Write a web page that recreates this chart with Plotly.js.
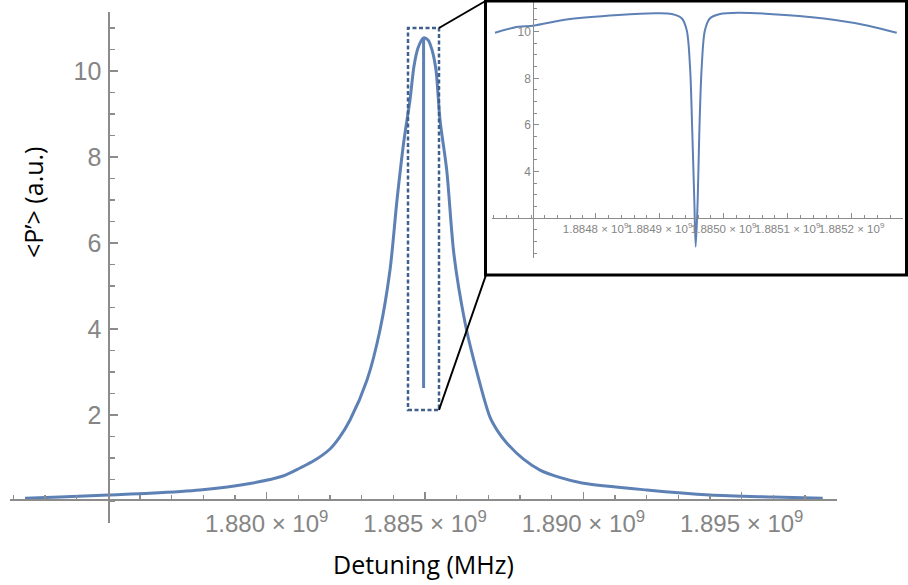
<!DOCTYPE html>
<html>
<head>
<meta charset="utf-8">
<script src="https://cdn.plot.ly/plotly-3.0.1.min.js"></script>
<style>
  html, body { margin: 0; padding: 0; background: #ffffff; }
  #chart { width: 908px; height: 585px; }
</style>
</head>
<body>
<div id="chart"></div>
<script>
// ---- Main curve (detuning in Hz, <P'> in a.u.) ----
const mainDetuning = [
  1.872370e9, 1.873475e9, 1.875000e9, 1.876317e9, 1.877896e9, 1.879474e9,
  1.880516e9, 1.881053e9, 1.881500e9, 1.882000e9, 1.882300e9, 1.882632e9,
  1.883169e9, 1.883579e9,
  1.883895e9, 1.884116e9, 1.884337e9, 1.884526e9, 1.884653e9, 1.884779e9,
  1.884955e9,
  1.885095e9, 1.885221e9, 1.885347e9, 1.885474e9, 1.885685e9, 1.885916e9,
  1.886263e9, 1.886515e9, 1.887052e9, 1.887300e9, 1.887580e9, 1.888100e9,
  1.888630e9, 1.889250e9, 1.889956e9,
  1.892000e9, 1.894000e9, 1.895990e9, 1.897558e9
];
const mainPower = [
  0.063, 0.093, 0.14, 0.18, 0.256, 0.407,
  0.581, 0.767, 0.94, 1.21, 1.48, 1.884,
  2.814, 3.977,
  5.372, 7.0, 8.395, 9.326, 10.116, 10.535,
  10.77,
  10.72, 10.49, 10.02, 8.86, 7.70, 5.72,
  4.15, 3.35, 1.95, 1.62, 1.35, 0.98,
  0.72, 0.55, 0.42,
  0.256, 0.14, 0.093, 0.063
];
// narrow dip at line centre, seen as a vertical stroke in the main plot
const mainDipDetuning = [1.884955e9, 1.884955e9];
const mainDipPower = [10.77, 2.63];

// ---- Inset curve (zoom around the dip) ----
const insetDetuning = [
  1.8846428e9, 1.8846792e9, 1.8847027e9, 1.8847573e9, 1.8848355e9, 1.8848928e9,
  1.8849189e9, 1.8849345e9, 1.8849423e9, 1.8849475e9, 1.8849511e9, 1.8849542e9,
  1.8849564e9,
  1.8849595e9, 1.8849620e9, 1.8849658e9, 1.8849709e9, 1.8849788e9, 1.8849944e9,
  1.8850223e9, 1.8850959e9, 1.8851741e9, 1.8852261e9, 1.8852705e9
];
const insetPower = [
  9.955, 10.212, 10.255, 10.530, 10.714, 10.787,
  10.757, 10.573, 10.071, 8.498, 5.643, 2.784,
  0.783,
  2.784, 5.643, 8.498, 10.071, 10.573, 10.757,
  10.813, 10.714, 10.5, 10.255, 9.955
];

// ---- Tick labels ----
const mainXTicks = [1.880e9, 1.885e9, 1.890e9, 1.895e9];
const mainXTickText = ['1.880', '1.885', '1.890', '1.895'];
const mainYTicks = [2, 4, 6, 8, 10];
const insetXTicks = [1.8848e9, 1.8849e9, 1.8850e9, 1.8851e9, 1.8852e9];
const insetXTickText = ['1.8848', '1.8849', '1.8850', '1.8851', '1.8852'];
const insetYTicks = [4, 6, 8, 10];

// zoom window marked on the main plot
const zoomBox = { x0: 1.884463e9, x1: 1.885442e9, y0: 2.116, y1: 11.0 };

// ---- layout helpers (pixel -> paper) ----
const W = 908, H = 585, ML = 10, MR = 0, MT = 0, MB = 62;
const PW = W - ML - MR, PH = H - MT - MB;
const pxX = p => (p - ML) / PW;
const pxY = p => (H - MB - p) / PH;

const mainXRange = [1.871896e9, 1.898009e9];
const mainYRange = [-0.5116, 11.372];
const mainXDom = [pxX(10), pxX(837)];
const mainYDom = [pxY(523), pxY(12)];
function dataToPaper(x, y) {
  const fx = (x - mainXRange[0]) / (mainXRange[1] - mainXRange[0]);
  const fy = (y - mainYRange[0]) / (mainYRange[1] - mainYRange[0]);
  return [mainXDom[0] + fx * (mainXDom[1] - mainXDom[0]),
          mainYDom[0] + fy * (mainYDom[1] - mainYDom[0])];
}

const sup = s => s + ' × 10<sup>9</sup>';
function range(a, b, step) { const out = []; for (let v = a; v <= b + step / 1e6; v += step) out.push(v); return out; }

const lineBlue = '#5e81b5';
const axisGray = '#8c8c8c';
const labelGray = '#858585';

const traces = [
  { x: mainDetuning, y: mainPower, type: 'scatter', mode: 'lines',
    line: { color: lineBlue, width: 3, shape: 'spline', smoothing: 0.8 }, xaxis: 'x', yaxis: 'y', hoverinfo: 'skip' },
  { x: mainDipDetuning, y: mainDipPower, type: 'scatter', mode: 'lines',
    line: { color: lineBlue, width: 3 }, xaxis: 'x', yaxis: 'y', hoverinfo: 'skip' },
  { x: insetDetuning, y: insetPower, type: 'scatter', mode: 'lines',
    line: { color: lineBlue, width: 2, shape: 'spline', smoothing: 0.9 }, xaxis: 'x2', yaxis: 'y2', hoverinfo: 'skip' }
];

const tlMain = dataToPaper(zoomBox.x1, zoomBox.y1);
const blMain = dataToPaper(zoomBox.x1, zoomBox.y0);

const layout = {
  width: W, height: H,
  margin: { l: ML, r: MR, t: MT, b: MB },
  paper_bgcolor: '#ffffff', plot_bgcolor: 'rgba(0,0,0,0)',
  showlegend: false,
  font: { family: 'Liberation Sans, Arial, sans-serif', color: labelGray },
  xaxis: {
    domain: mainXDom, range: mainXRange, anchor: 'free', position: pxY(499),
    showgrid: false, zeroline: false, showline: true, linecolor: axisGray, linewidth: 1.5,
    ticks: 'inside', ticklen: 7, tickwidth: 1.3, tickcolor: axisGray,
    tickmode: 'array', tickvals: mainXTicks, ticktext: mainXTickText.map(sup),
    tickangle: 0, tickfont: { size: 24, color: labelGray }, ticklabelstandoff: 3,
    minor: { tickmode: 'array', tickvals: range(1.872e9, 1.898e9, 1e6), ticks: 'inside', ticklen: 4, tickwidth: 1.2, tickcolor: axisGray },
    fixedrange: true
  },
  yaxis: {
    domain: mainYDom, range: mainYRange, anchor: 'free', position: pxX(108.3),
    showgrid: false, zeroline: false, showline: true, linecolor: axisGray, linewidth: 1.5,
    ticks: 'inside', ticklen: 8, tickwidth: 1.3, tickcolor: axisGray,
    tickmode: 'array', tickvals: mainYTicks, ticktext: mainYTicks.map(String),
    tickfont: { size: 25, color: labelGray }, ticklabelstandoff: 2,
    minor: { tickmode: 'array', tickvals: range(-0.5, 11, 0.5), ticks: 'inside', ticklen: 5, tickwidth: 1.2, tickcolor: axisGray },
    fixedrange: true
  },
  xaxis2: {
    domain: [pxX(492), pxX(903)], range: [1.8846381e9, 1.8852803e9], anchor: 'free', position: pxY(218.3),
    showgrid: false, zeroline: false, showline: true, linecolor: axisGray, linewidth: 1,
    ticks: 'inside', ticklen: 5, tickwidth: 1, tickcolor: axisGray,
    tickmode: 'array', tickvals: insetXTicks, ticktext: insetXTickText.map(sup),
    tickangle: 0, tickfont: { size: 11.5, color: labelGray },
    minor: { tickmode: 'array', tickvals: range(1.88464e9, 1.88528e9, 2e4), ticks: 'inside', ticklen: 3, tickwidth: 1, tickcolor: axisGray },
    fixedrange: true
  },
  yaxis2: {
    domain: [pxY(258), pxY(2)], range: [0.298, 11.27], anchor: 'free', position: pxX(533.3),
    showgrid: false, zeroline: false, showline: true, linecolor: axisGray, linewidth: 1,
    ticks: 'inside', ticklen: 5, tickwidth: 1, tickcolor: axisGray,
    tickmode: 'array', tickvals: insetYTicks, ticktext: insetYTicks.map(String),
    tickfont: { size: 12, color: labelGray },
    minor: { tickmode: 'array', tickvals: range(0.5, 11, 0.5), ticks: 'inside', ticklen: 3, tickwidth: 1, tickcolor: axisGray },
    fixedrange: true
  },
  shapes: [
    { type: 'rect', xref: 'x', yref: 'y', x0: zoomBox.x0, x1: zoomBox.x1, y0: zoomBox.y0, y1: zoomBox.y1,
      line: { color: '#3f5f8c', width: 2.5, dash: '4px,2.5px' }, layer: 'above' },
    { type: 'line', xref: 'paper', yref: 'paper', x0: tlMain[0], y0: tlMain[1], x1: pxX(485.5), y1: pxY(1),
      line: { color: '#000000', width: 2 } },
    { type: 'line', xref: 'paper', yref: 'paper', x0: blMain[0], y0: blMain[1], x1: pxX(486), y1: pxY(275),
      line: { color: '#000000', width: 2 } },
    { type: 'rect', xref: 'paper', yref: 'paper', x0: pxX(485.5), x1: pxX(906.5), y0: pxY(275), y1: pxY(1),
      line: { color: '#000000', width: 3 }, layer: 'above' }
  ],
  annotations: [
    { text: '<P’> (a.u.)', xref: 'paper', yref: 'paper', x: pxX(32.5), y: pxY(202.5),
      xanchor: 'center', yanchor: 'middle', textangle: -90, showarrow: false,
      font: { family: 'Open Sans, sans-serif', size: 25, color: '#000000' } },
    { text: 'Detuning (MHz)', xref: 'paper', yref: 'paper', x: pxX(423.3), y: pxY(564),
      xanchor: 'center', yanchor: 'middle', showarrow: false,
      font: { family: 'Open Sans, sans-serif', size: 25, color: '#000000' } }
  ]
};

Plotly.newPlot('chart', traces, layout, { staticPlot: true, displayModeBar: false });
</script>
</body>
</html>
